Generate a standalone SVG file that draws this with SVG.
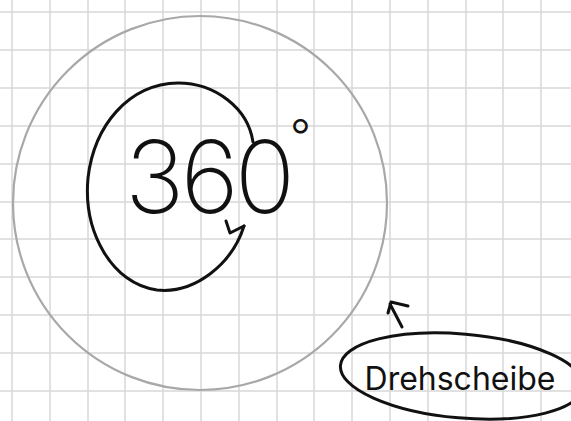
<svg xmlns="http://www.w3.org/2000/svg" width="571" height="421" viewBox="0 0 571 421">
  <style>
    .grid { stroke: #d8d8d8; stroke-width: 1.5; fill: none; }
    .disc { fill: none; stroke: #a8a8a8; stroke-width: 2.2; }
    .ink { fill: none; stroke: #111; stroke-width: 3; stroke-linecap: round; stroke-linejoin: round; }
    .hand { font-family: Inter, "Liberation Sans", sans-serif; fill: #111; }
  </style>
  <rect width="571" height="421" fill="#ffffff"/>
  <path class="grid" d="M12,0V421M50,0V421M88,0V421M125,0V421M163,0V421M201,0V421M239,0V421M277,0V421M314,0V421M352,0V421M390,0V421M428,0V421M466,0V421M503,0V421M541,0V421M0,12H571M0,50H571M0,88H571M0,126H571M0,164H571M0,202H571M0,239H571M0,277H571M0,315H571M0,353H571M0,391H571"/>
  <g id="drehscheibe-disc">
    <circle class="disc" cx="200" cy="203" r="187"/>
  </g>
  <g id="angle-360">
    <path class="ink" d="M253,142 C248,108 215,83 178,83 C128,84 94,126 88,178 C83,232 112,284 157,290 C195,294 232,264 244,226"/>
    <path class="ink" d="M226,221 L230,233 L244,226"/>
    <text class="hand" x="125" y="213" font-size="100" font-weight="200" letter-spacing="-4">360<tspan font-size="46" font-weight="300" dx="-1" dy="-60">°</tspan></text>
  </g>
  <g id="connectors">
    <path class="ink" d="M402,327 L390,304 M388,313 L391,302 L408,306" stroke-width="2.5"/>
  </g>
  <g id="drehscheibe-label">
    <ellipse class="ink" cx="462" cy="376" rx="122" ry="42" transform="rotate(5 462 376)"/>
    <text class="hand" x="460" y="390" font-size="32" font-weight="400" text-anchor="middle">Drehscheibe</text>
  </g>
</svg>
